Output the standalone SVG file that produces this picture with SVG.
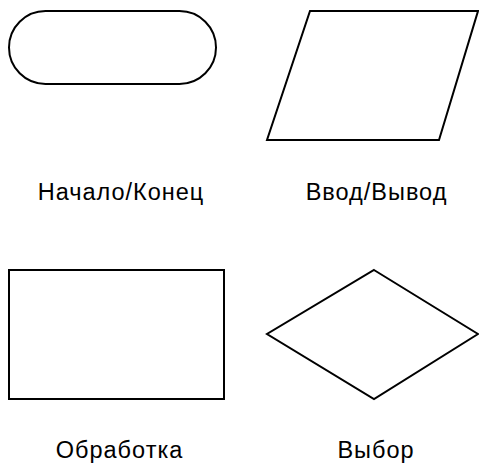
<svg xmlns="http://www.w3.org/2000/svg" width="479" height="464" viewBox="0 0 479 464">
<style>
.s{fill:#fff;stroke:#000;stroke-width:2}
.t{font-family:"Liberation Sans",Arial,sans-serif;font-size:23.5px;letter-spacing:1px;fill:#000;text-anchor:middle}
</style>
<rect width="479" height="464" fill="#fff"/>
<g id="terminal">
<rect class="s" x="9" y="11" width="207" height="73" rx="36.5" ry="36.5"/>
<text class="t" x="121" y="200">Начало/Конец</text>
</g>
<g id="io">
<polygon class="s" points="310,11 478,11 439,140 267,140"/>
<text class="t" x="376.5" y="200">Ввод/Вывод</text>
</g>
<g id="process">
<rect class="s" x="9" y="270" width="215" height="129"/>
<text class="t" x="119.5" y="458">Обработка</text>
</g>
<g id="decision">
<polygon class="s" points="374,270 478,334 374,399 267,334"/>
<text class="t" x="376" y="458">Выбор</text>
</g>
<g id="connectors"/>
</svg>
